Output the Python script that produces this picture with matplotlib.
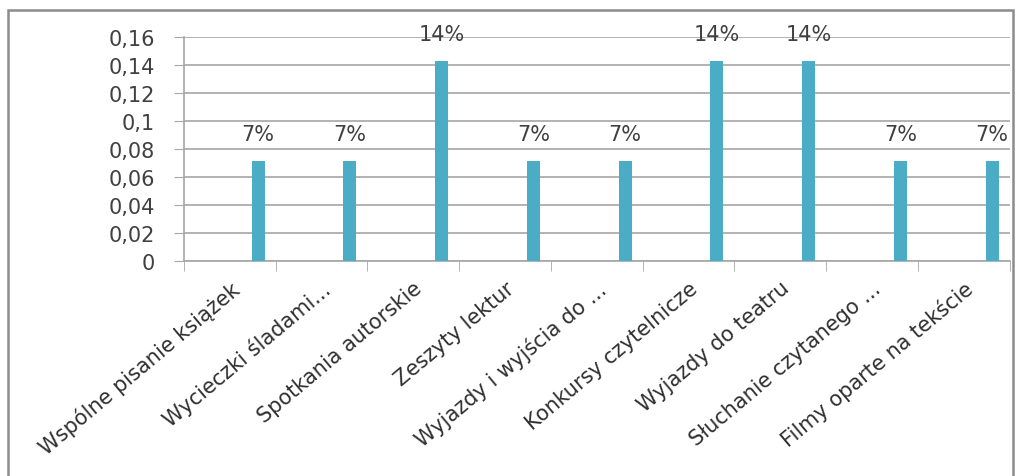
import numpy as np
import matplotlib.pyplot as plt
from matplotlib.patches import Rectangle

categories = ['Wspólne pisanie książek', 'Wycieczki śladami...', 'Spotkania autorskie',
              'Zeszyty lektur', 'Wyjazdy i wyjścia do ...', 'Konkursy czytelnicze',
              'Wyjazdy do teatru', 'Słuchanie czytanego ...', 'Filmy oparte na tekście']
values = [0.0714, 0.0714, 0.1429, 0.0714, 0.0714, 0.1429, 0.1429, 0.0714, 0.0714]
y_ticks = [0, 0.02, 0.04, 0.06, 0.08, 0.1, 0.12, 0.14, 0.16]
y_tick_labels = ['0', '0,02', '0,04', '0,06', '0,08', '0,1', '0,12', '0,14', '0,16']

plt.rcParams['font.family'] = ['DejaVu Sans']

fig = plt.figure(figsize=(10.27, 4.77), dpi=100)
ax = fig.add_axes([0.179, 0.451, 0.804, 0.469])

x = np.arange(len(categories))
bars = ax.bar(x + 0.31, values, width=0.14, color='#4bacc6', zorder=3)

# data labels above the bars
for xi, v in zip(x, values):
    ax.annotate(f'{v:.0%}', (xi + 0.31, v), xytext=(0, 12), textcoords='offset points',
                ha='center', va='bottom', fontsize=15, color='#404040')

ax.set_xlim(-0.5, len(categories) - 0.5)
ax.set_ylim(0, 0.16)
ax.set_yticks(y_ticks)
ax.set_yticklabels(y_tick_labels, fontsize=15, color='#404040')
ax.yaxis.grid(True, color='#a6a6a6', linewidth=1.2, zorder=0)
ax.tick_params(axis='y', length=7, color='#a6a6a6', pad=14)

ax.set_xticks(x)
ax.set_xticklabels(categories, rotation=40, ha='right', rotation_mode='anchor',
                   fontsize=15, color='#303030')
ax.tick_params(axis='x', length=0, pad=12)
ax.set_xticks(np.arange(len(categories) + 1) - 0.5, minor=True)
ax.tick_params(axis='x', which='minor', length=7, color='#a6a6a6')

for side in ['top', 'right']:
    ax.spines[side].set_visible(False)
for side in ['left', 'bottom']:
    ax.spines[side].set_color('#a6a6a6')
    ax.spines[side].set_linewidth(1.2)

fig.patches.append(Rectangle((8 / 1027, -0.05), 1005 / 1027, 1.05 - 11 / 477,
                             transform=fig.transFigure, fill=False,
                             edgecolor='#8c8c8c', linewidth=1.8))

fig.savefig('out.png', dpi=100)
